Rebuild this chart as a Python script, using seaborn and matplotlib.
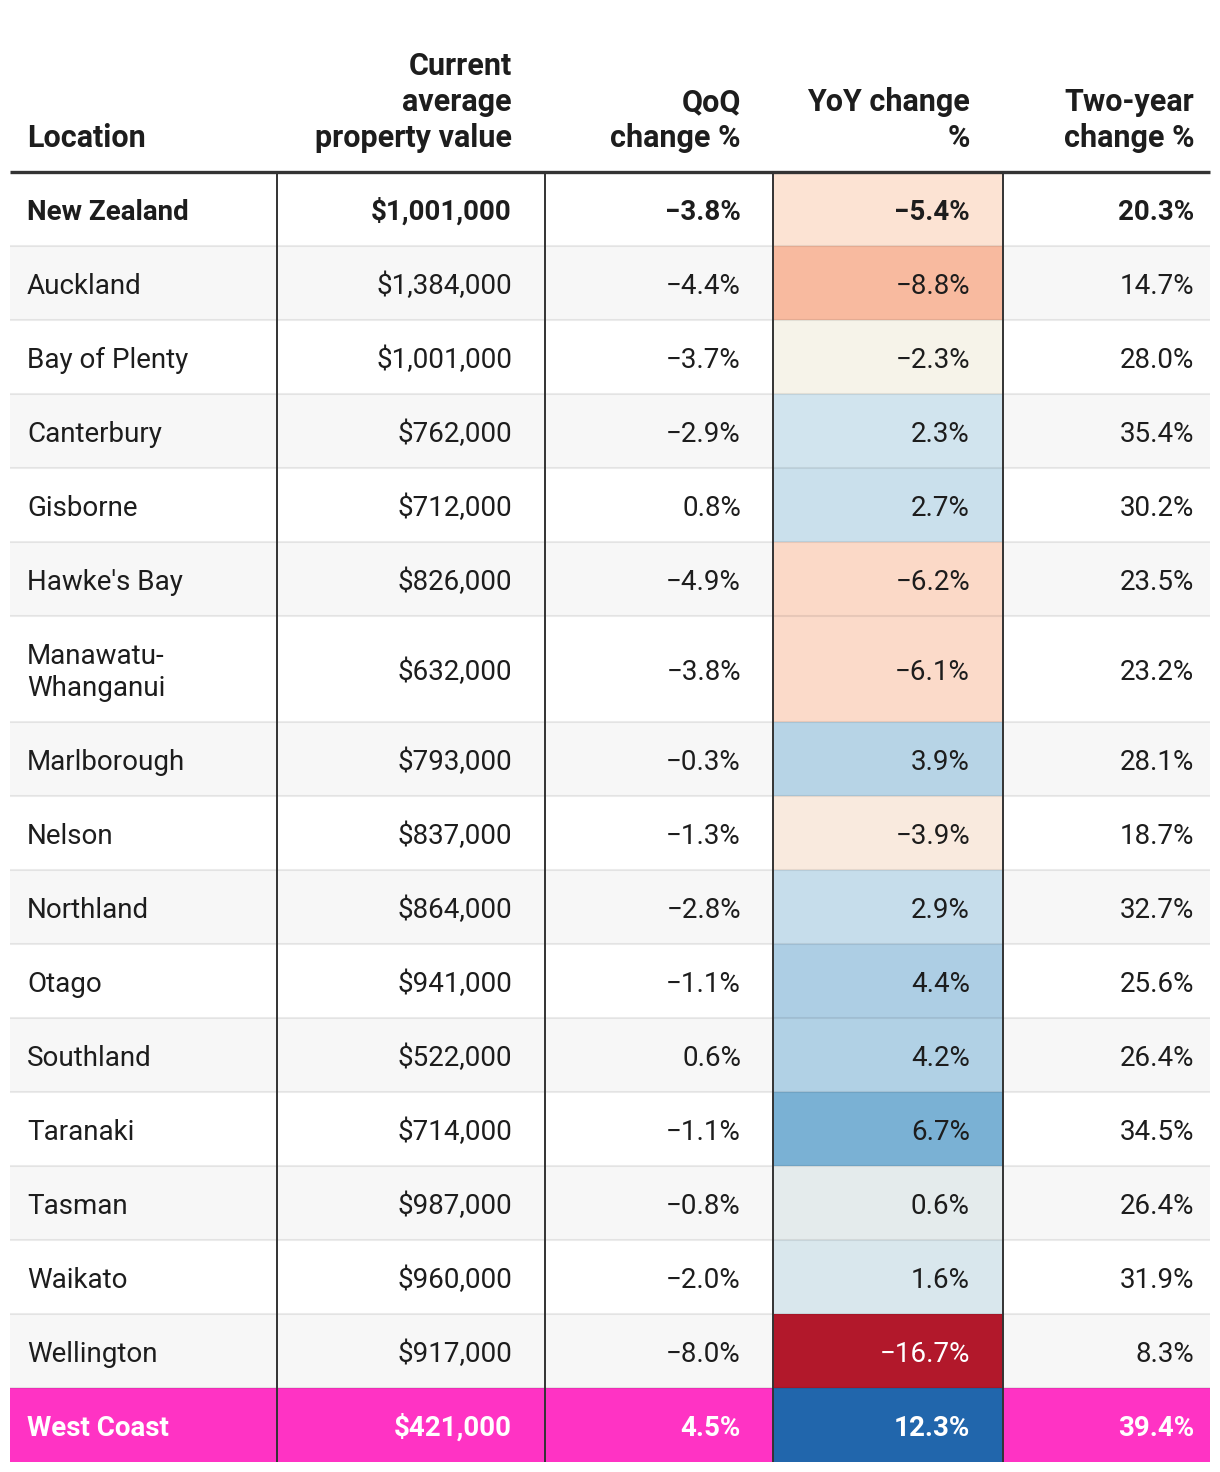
import numpy as np
import pandas as pd
import seaborn as sns
import matplotlib.pyplot as plt
from matplotlib.colors import LinearSegmentedColormap, Normalize, to_rgb

sns.set_theme(style="white")
plt.rcParams['font.family'] = ['Roboto', 'DejaVu Sans']

# data
locations = ["New Zealand", "Auckland", "Bay of Plenty", "Canterbury", "Gisborne",
             "Hawke's Bay", "Manawatu-\nWhanganui", "Marlborough", "Nelson", "Northland",
             "Otago", "Southland", "Taranaki", "Tasman", "Waikato", "Wellington", "West Coast"]
avg_value = [1001000, 1384000, 1001000, 762000, 712000, 826000, 632000, 793000, 837000,
             864000, 941000, 522000, 714000, 987000, 960000, 917000, 421000]
qoq = [-3.8, -4.4, -3.7, -2.9, 0.8, -4.9, -3.8, -0.3, -1.3, -2.8, -1.1, 0.6, -1.1, -0.8,
       -2.0, -8.0, 4.5]
yoy = [-5.4, -8.8, -2.3, 2.3, 2.7, -6.2, -6.1, 3.9, -3.9, 2.9, 4.4, 4.2, 6.7, 0.6, 1.6,
       -16.7, 12.3]
two_year = [20.3, 14.7, 28.0, 35.4, 30.2, 23.5, 23.2, 28.1, 18.7, 32.7, 25.6, 26.4, 34.5,
            26.4, 31.9, 8.3, 39.4]
headers = ["Location", "Current\naverage\nproperty value", "QoQ\nchange %",
           "YoY change\n%", "Two-year\nchange %"]

df = pd.DataFrame({"loc": locations, "val": avg_value, "qoq": qoq,
                   "yoy": yoy, "two": two_year})

# colour scale for the YoY column
vmin, vmax = min(yoy), max(yoy)
nodes = [(-16.7, "#b2182b"), (-8.8, "#f8bba0"), (-5.4, "#fce3d4"), (-2.3, "#f6f3e9"),
         (0.6, "#e4ebec"), (2.3, "#d1e4ee"), (4.4, "#aecfe4"), (6.7, "#7ab1d4"),
         (12.3, "#2166ac")]
cmap = LinearSegmentedColormap.from_list(
    "yoy", [((v - vmin) / (vmax - vmin), c) for v, c in nodes])
norm = Normalize(vmin, vmax)

# layout (pixels)
W, H = 1220, 1472
col_edges = [10, 277, 545, 773, 1003, 1210]
text_x = [27, 512, 741, 970, 1194]
top = 172
row_h = [106 if "\n" in s else 74 for s in df["loc"]]
row_edges = top + np.concatenate([[0], np.cumsum(row_h)])
row_mid = (row_edges[:-1] + row_edges[1:]) / 2
n = len(df)

fig = plt.figure(figsize=(W / 100, H / 100), dpi=100)
ax = fig.add_axes([0, 0, 1, 1])
ax.set_xlim(0, W)
ax.set_ylim(H, 0)
ax.axis("off")

PINK = "#ff33c4"
TXT = "#1d1d1d"
FS = 20
HFS = 22

# row stripes
bg = ["white" if i % 2 == 0 else "#f7f7f7" for i in range(n)]
bg[-1] = PINK
ax.barh(row_mid, col_edges[-1] - col_edges[0], height=row_h, left=col_edges[0],
        color=bg, edgecolor="none", zorder=1)

# YoY cells
C = np.array(df["yoy"]).reshape(-1, 1)
ax.pcolormesh([col_edges[3], col_edges[4]], row_edges, C, cmap=cmap, norm=norm, zorder=2)

# separators
ax.hlines(row_edges[1:-1], col_edges[0], col_edges[-1], color="black", alpha=0.08,
          lw=1.5, zorder=3)
ax.vlines(col_edges[1:-1], top, row_edges[-1], color="#333333", lw=1.4, zorder=4)
ax.hlines(top - 0.5, col_edges[0], col_edges[-1], color="#333333", lw=2.4, zorder=5)

# header
for j, h in enumerate(headers):
    lines = h.split("\n")[::-1]
    for k, line in enumerate(lines):
        ax.text(text_x[j], 135 - 36 * k, line, ha="left" if j == 0 else "right",
                va="center_baseline", fontsize=HFS, fontweight="bold", color=TXT)


def pct(v):
    return f"{v:.1f}%".replace("-", "\u2212")


for i, r in df.iterrows():
    bold = i == 0 or i == n - 1
    fw = "bold" if bold else "normal"
    col = "white" if i == n - 1 else TXT
    y = row_mid[i]
    loc_lines = r["loc"].split("\n")
    if len(loc_lines) == 1:
        ax.text(text_x[0], y, r["loc"], ha="left", va="center_baseline",
                fontsize=FS, fontweight=fw, color=col, zorder=6)
    else:
        for k, line in enumerate(loc_lines):
            ax.text(text_x[0], y + (k - 0.5) * 32, line, ha="left", va="center_baseline",
                    fontsize=FS, fontweight=fw, color=col, zorder=6)
    ax.text(text_x[1], y, f"${r['val']:,.0f}", ha="right", va="center_baseline",
            fontsize=FS, fontweight=fw, color=col, zorder=6)
    ax.text(text_x[2], y, pct(r["qoq"]), ha="right", va="center_baseline",
            fontsize=FS, fontweight=fw, color=col, zorder=6)
    rgb = np.array(to_rgb(cmap(norm(r["yoy"]))))
    lum = 0.2126 * rgb[0] + 0.7152 * rgb[1] + 0.0722 * rgb[2]
    ycol = "white" if lum < 0.5 else TXT
    ax.text(text_x[3], y, pct(r["yoy"]), ha="right", va="center_baseline",
            fontsize=FS, fontweight=fw, color=ycol, zorder=6)
    ax.text(text_x[4], y, pct(r["two"]), ha="right", va="center_baseline",
            fontsize=FS, fontweight=fw, color=col, zorder=6)

fig.savefig("out.png", dpi=100)
